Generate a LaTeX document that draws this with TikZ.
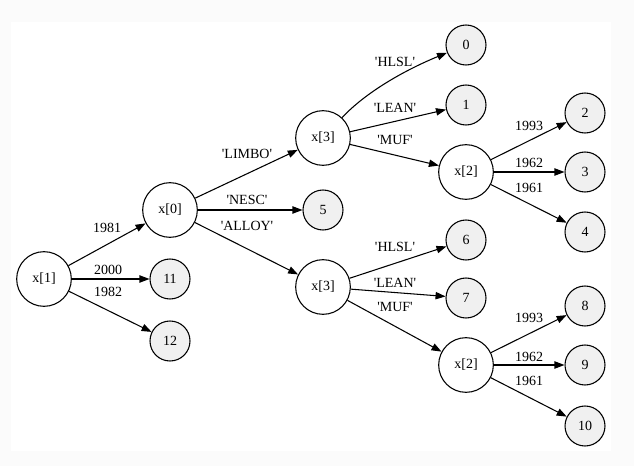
\documentclass[tikz,border=0pt]{standalone}
\usepackage{fontspec}
\setmainfont{Liberation Serif}
\usetikzlibrary{arrows.meta}
\definecolor{leafgray}{RGB}{240,240,240}
\definecolor{pagegray}{RGB}{251,251,251}
\newcommand{\qt}[1]{\textquotesingle#1\textquotesingle}

\begin{document}
\begin{tikzpicture}[x=0.75pt,y=-0.75pt,line width=0.8pt,
		every node/.style={font=\fontsize{10.5pt}{12pt}\selectfont},
		split/.style={draw,circle,fill=white,minimum size=41pt,inner sep=0pt},
		leaf/.style={draw,circle,fill=leafgray,minimum size=30pt,inner sep=0pt},
		edge/.style={-{Triangle[length=7.5pt,width=5.5pt]}}]
		\fill[pagegray] (0,0) rectangle (634,466);
		\fill[white] (11,22) rectangle (611,451);
	
		\node[split] (x1) at (44,279) {x[1]};
		\node[split] (x0) at (170,210) {x[0]};
		\node[leaf] (n11) at (170,279) {11};
		\node[leaf] (n12) at (170,341) {12};
		\node[split] (xa) at (323,138) {x[3]};
		\node[leaf] (n5) at (323,210) {5};
		\node[split] (xb) at (323,287) {x[3]};
		\node[leaf] (n0) at (466,45) {0};
		\node[leaf] (n1) at (466,105) {1};
		\node[split] (xc) at (466,172) {x[2]};
		\node[leaf] (n6) at (466,240) {6};
		\node[leaf] (n7) at (466,298) {7};
		\node[split] (xd) at (466,365) {x[2]};
		\node[leaf] (n2) at (585,113) {2};
		\node[leaf] (n3) at (585,172) {3};
		\node[leaf] (n4) at (585,232) {4};
		\node[leaf] (n8) at (585,306) {8};
		\node[leaf] (n9) at (585,365) {9};
		\node[leaf] (n10) at (585,426) {10};
	
		\draw[edge] (x1) -- (x0);
		\draw[edge] (x1) -- (n11);
		\draw[edge] (x1) -- (n12);
		\draw[edge] (x0) -- (xa);
		\draw[edge] (x0) -- (n5);
		\draw[edge] (x0) -- (xb);
		\draw[edge] (xa) .. controls (366,92) and (405,70) .. (n0);
		\draw[edge] (xa) -- (n1);
		\draw[edge] (xa) -- (xc);
		\draw[edge] (xb) -- (n6);
		\draw[edge] (xb) -- (n7);
		\draw[edge] (xb) -- (xd);
		\draw[edge] (xc) -- (n2);
		\draw[edge] (xc) -- (n3);
		\draw[edge] (xc) -- (n4);
		\draw[edge] (xd) -- (n8);
		\draw[edge] (xd) -- (n9);
		\draw[edge] (xd) -- (n10);
	
		\begin{scope}[every node/.style={font=\fontsize{10.5pt}{12pt}\selectfont,inner sep=0pt}]
			\node (l1981) at (107,228) {1981};
			\node (l2000) at (108,270) {2000};
			\node (l1982) at (108,292) {1982};
			\node (llimbo) at (247,154) {\qt{LIMBO}};
			\node (lnesc) at (247,200) {\qt{NESC}};
			\node (lalloy) at (247,226) {\qt{ALLOY}};
			\node (lhlsla) at (395,62) {\qt{HLSL}};
			\node (lleana) at (395,108) {\qt{LEAN}};
			\node (lmufa) at (395,140) {\qt{MUF}};
			\node (lhlslb) at (395,247) {\qt{HLSL}};
			\node (lleanb) at (395,283) {\qt{LEAN}};
			\node (lmufb) at (395,307) {\qt{MUF}};
			\node (l1993a) at (529,126) {1993};
			\node (l1962a) at (529,163) {1962};
			\node (l1961a) at (529,188) {1961};
			\node (l1993b) at (529,318) {1993};
			\node (l1962b) at (529,357) {1962};
			\node (l1961b) at (529,381) {1961};
		\end{scope}
	\end{tikzpicture}
\end{document}
